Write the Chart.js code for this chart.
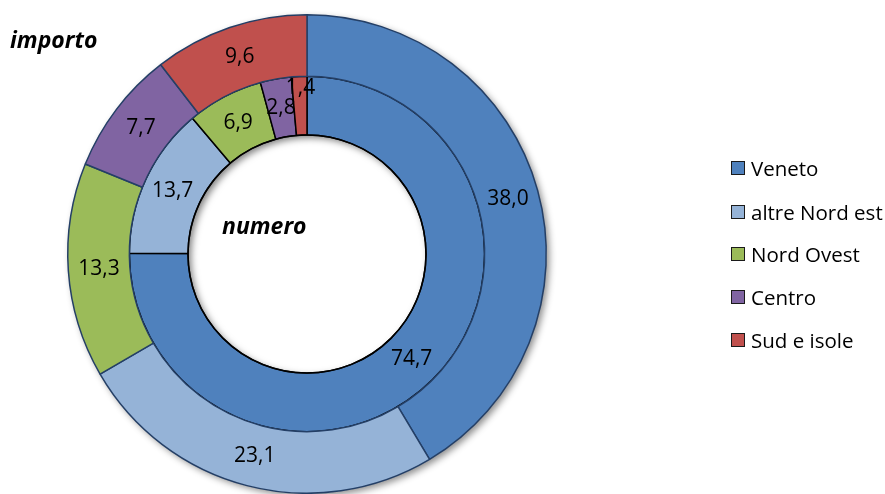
<!DOCTYPE html>
<html>
<head>
<meta charset="utf-8">
<script src="https://cdn.jsdelivr.net/npm/chart.js@4/dist/chart.umd.min.js"></script>
<style>
  html, body { margin:0; padding:0; background:#fff; }
  #wrap { position:relative; width:885px; height:494px; overflow:hidden; }
  canvas { position:absolute; left:0; top:0; }
  .lbl { position:absolute; font-family:"Open Sans", sans-serif; font-weight:bold; font-style:italic; font-size:23px; color:#000; white-space:nowrap; line-height:1; }
  #legend { position:absolute; left:731px; top:0; font-family:"Open Sans", sans-serif; font-size:20.5px; color:#000; }
  .li { position:absolute; left:0; white-space:nowrap; display:flex; align-items:center; height:22px; }
  .box { width:12px; height:12px; border:1px solid #1a1a1a; margin-right:6px; box-sizing:content-box; }
</style>
</head>
<body>
<div id="wrap">
  <canvas id="c" width="885" height="494"></canvas>
  <div class="lbl" style="left:10px; top:28px;">importo</div>
  <div class="lbl" style="left:222px; top:214px;">numero</div>
  <div id="legend"></div>
</div>
<script>
const categories = ["Veneto", "altre Nord est", "Nord Ovest", "Centro", "Sud e isole"];
const importo = [38.0, 23.1, 13.3, 7.7, 9.6];
const numero = [74.7, 13.7, 6.9, 2.8, 1.4];
const colors = ["#4F81BD", "#95B3D7", "#9BBB59", "#8064A2", "#C0504D"];

// HTML legend
const legend = document.getElementById('legend');
const legendTops = [157, 201, 243, 286, 329];
categories.forEach((c, i) => {
  const d = document.createElement('div');
  d.className = 'li';
  d.style.top = legendTops[i] + 'px';
  d.innerHTML = '<span class="box" style="background:' + colors[i] + '"></span><span>' + c + '</span>';
  legend.appendChild(d);
});

const fmt = v => v.toFixed(1).replace('.', ',');

const shadowPlugin = {
  id: 'shadows',
  beforeDatasetsDraw(chart) {
    const meta = chart.getDatasetMeta(0);
    const arc = meta.data[0];
    if (!arc) return;
    const { x, y, outerRadius } = arc.getProps(['x', 'y', 'outerRadius'], true);
    const ctx = chart.ctx;
    ctx.save();
    ctx.shadowColor = 'rgba(0,0,0,0.45)';
    ctx.shadowBlur = 7;
    ctx.shadowOffsetX = 3;
    ctx.shadowOffsetY = 3;
    ctx.fillStyle = '#ffffff';
    ctx.beginPath();
    ctx.arc(x, y, outerRadius, 0, Math.PI * 2);
    ctx.fill();
    ctx.restore();
  },
  afterDatasetsDraw(chart) {
    const meta = chart.getDatasetMeta(1);
    const arc = meta.data[0];
    if (!arc) return;
    const { x, y, innerRadius } = arc.getProps(['x', 'y', 'innerRadius'], true);
    const ctx = chart.ctx;
    ctx.save();
    ctx.beginPath();
    ctx.arc(x, y, innerRadius - 0.5, 0, Math.PI * 2);
    ctx.clip();
    ctx.shadowColor = 'rgba(0,0,0,0.5)';
    ctx.shadowBlur = 7;
    ctx.shadowOffsetX = 3;
    ctx.shadowOffsetY = 3;
    ctx.fillStyle = '#000';
    ctx.beginPath();
    ctx.arc(x, y, innerRadius + 60, 0, Math.PI * 2);
    ctx.arc(x, y, innerRadius, 0, Math.PI * 2, true);
    ctx.fill();
    ctx.restore();
    ctx.save();
    ctx.strokeStyle = '#000';
    ctx.lineWidth = 1.5;
    ctx.beginPath();
    ctx.arc(x, y, innerRadius, 0, Math.PI * 2);
    ctx.stroke();
    ctx.restore();
  }
};

const labelPlugin = {
  id: 'valueLabels',
  afterDraw(chart) {
    const ctx = chart.ctx;
    ctx.save();
    ctx.font = '21px "Open Sans", sans-serif';
    ctx.fillStyle = '#000';
    ctx.textAlign = 'center';
    ctx.textBaseline = 'middle';
    chart.data.datasets.forEach((ds, di) => {
      const meta = chart.getDatasetMeta(di);
      meta.data.forEach((el, i) => {
        const p = el.tooltipPosition();
        let dy = 0;
        if (di === 1 && i === ds.data.length - 1) dy = -18; // avoid overlap like original
        ctx.fillText(fmt(ds.data[i]), p.x, p.y + dy);
      });
    });
    ctx.restore();
  }
};

new Chart(document.getElementById('c'), {
  type: 'doughnut',
  data: {
    labels: categories,
    datasets: [
      { label: 'importo', data: importo, backgroundColor: colors, borderColor: '#243F66', borderWidth: 1.5, weight: 62 },
      { label: 'numero', data: numero, backgroundColor: colors, borderColor: '#000000', borderWidth: 1.5, weight: 59 }
    ]
  },
  options: {
    responsive: false,
    animation: false,
    cutout: 119,
    layout: { padding: { left: 67, top: 14, right: 338, bottom: 0 } },
    plugins: { legend: { display: false }, tooltip: { enabled: false } }
  },
  plugins: [shadowPlugin, labelPlugin]
});
</script>
</body>
</html>
